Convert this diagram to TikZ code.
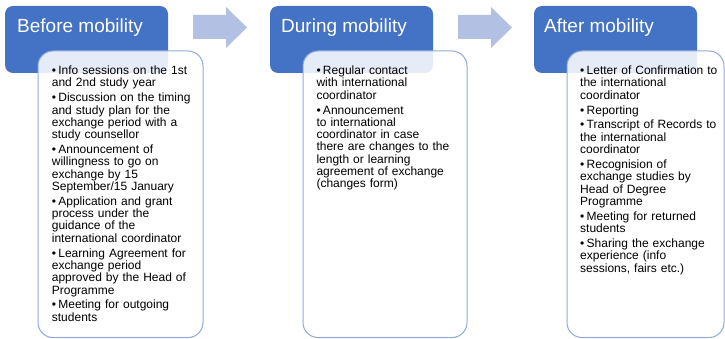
\documentclass[tikz,border=0pt]{standalone}
\usepackage{fontspec}
\setmainfont{Liberation Sans}
\definecolor{hdrblue}{HTML}{4472C4}
\definecolor{arrowblue}{HTML}{B2C1E3}
\definecolor{boxline}{HTML}{8FAADC}
\newcommand{\bitem}[1]{\par\hangindent=6.5pt\hangafter=1\noindent\makebox[6.5pt][l]{•}#1\par}
\tikzset{
  header/.style={fill=hdrblue, draw=none, rounded corners=8pt},
  hdrtext/.style={text=white, font=\fontsize{19}{22}\selectfont, inner sep=0pt, anchor=base west},
  listbox/.style={draw=boxline, line width=1pt, fill=white, fill opacity=0.87, rounded corners=15pt},
  body/.style={inner sep=0pt, anchor=north west, text width=160pt, align=left,
    font=\fontsize{12}{12.3}\selectfont\setlength{\parskip}{2.6pt}},
  flowarrow/.style={fill=arrowblue, draw=none}
}
\begin{document}
\begin{tikzpicture}[x=1pt,y=-1pt]
\useasboundingbox (0,0) rectangle (725,339);
% arrows
\fill[flowarrow] (193,15) -- (226,15) -- (226,7) -- (247,27.5) -- (226,48) -- (226,39) -- (193,39) -- cycle;
\fill[flowarrow] (458,15) -- (491,15) -- (491,7) -- (512,27.5) -- (491,48) -- (491,39) -- (458,39) -- cycle;
% headers
\path[header] (5,6) rectangle (168,73);
\path[header] (270,6) rectangle (433,73);
\path[header] (534,6) rectangle (697,73);
\node[hdrtext] (h1) at (17,33) {Before mobility};
\node[hdrtext] (h2) at (281,33) {During mobility};
\node[hdrtext] (h3) at (544,33) {After mobility};
% list boxes
\path[listbox] (38,51) rectangle (203,337.5);
\path[listbox] (303,51) rectangle (467,337.5);
\path[listbox] (567,51) rectangle (724,337.5);
% texts
\node[body] (t1) at (51.7,59.5) {%
\bitem{Info sessions on the 1st\\and 2nd study year}%
\bitem{Discussion on the timing\\and study plan for the\\exchange period with a\\study counsellor}%
\bitem{Announcement of\\willingness to go on\\exchange by 15\\September/15 January}%
\bitem{Application and grant\\process under the\\guidance of the\\international coordinator}%
\bitem{Learning Agreement for\\exchange period\\approved by the Head of\\Programme}%
\bitem{Meeting for outgoing\\students}};
\node[body] (t2) at (316.3,59.5) {%
\bitem{Regular contact\\with international\\coordinator}%
\bitem{Announcement\\to international\\coordinator in case\\there are changes to the\\length or learning\\agreement of exchange\\(changes form)}};
\node[body] (t3) at (580,59.5) {%
\bitem{Letter of Confirmation to\\the international\\coordinator}%
\bitem{Reporting}%
\bitem{Transcript of Records to\\the international\\coordinator}%
\bitem{Recognision of\\exchange studies by\\Head of Degree\\Programme}%
\bitem{Meeting for returned\\students}%
\bitem{Sharing the exchange\\experience (info\\sessions, fairs etc.)}};
\end{tikzpicture}
\end{document}
